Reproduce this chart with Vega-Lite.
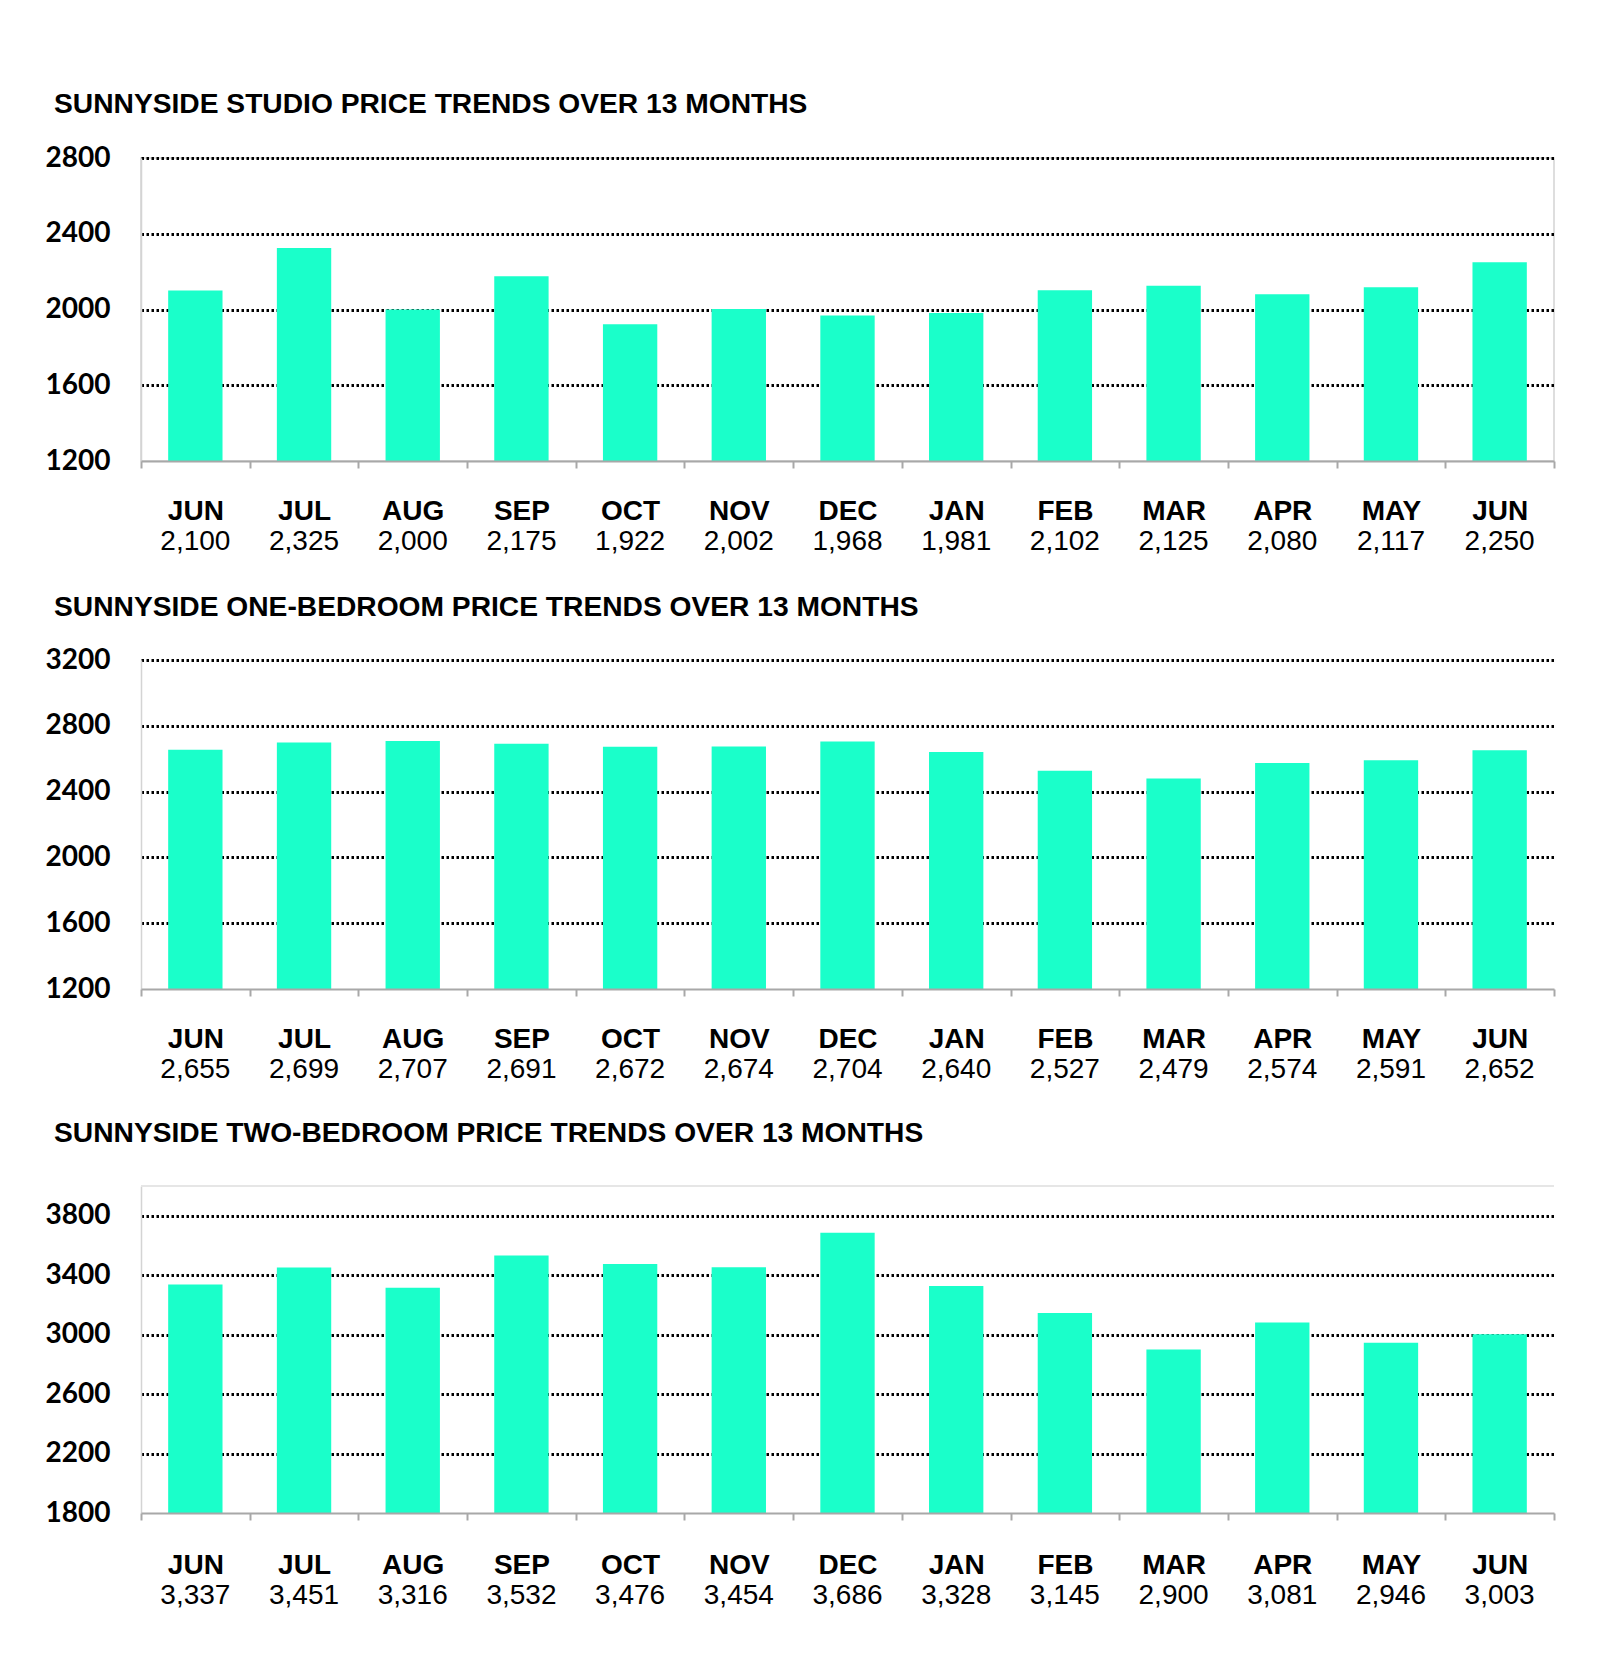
{
  "$schema": "https://vega.github.io/schema/vega-lite/v6.json",
  "background": "white",
  "padding": {"top": 89, "left": 44, "right": 10, "bottom": 10},
  "spacing": 36,
  "config": {"view": {"stroke": null}},
  "datasets": {
    "studio": [
      {"n": 1, "month": "JUN", "price": 2100},
      {"n": 2, "month": "JUL", "price": 2325},
      {"n": 3, "month": "AUG", "price": 2000},
      {"n": 4, "month": "SEP", "price": 2175},
      {"n": 5, "month": "OCT", "price": 1922},
      {"n": 6, "month": "NOV", "price": 2002},
      {"n": 7, "month": "DEC", "price": 1968},
      {"n": 8, "month": "JAN", "price": 1981},
      {"n": 9, "month": "FEB", "price": 2102},
      {"n": 10, "month": "MAR", "price": 2125},
      {"n": 11, "month": "APR", "price": 2080},
      {"n": 12, "month": "MAY", "price": 2117},
      {"n": 13, "month": "JUN", "price": 2250}
    ],
    "onebed": [
      {"n": 1, "month": "JUN", "price": 2655},
      {"n": 2, "month": "JUL", "price": 2699},
      {"n": 3, "month": "AUG", "price": 2707},
      {"n": 4, "month": "SEP", "price": 2691},
      {"n": 5, "month": "OCT", "price": 2672},
      {"n": 6, "month": "NOV", "price": 2674},
      {"n": 7, "month": "DEC", "price": 2704},
      {"n": 8, "month": "JAN", "price": 2640},
      {"n": 9, "month": "FEB", "price": 2527},
      {"n": 10, "month": "MAR", "price": 2479},
      {"n": 11, "month": "APR", "price": 2574},
      {"n": 12, "month": "MAY", "price": 2591},
      {"n": 13, "month": "JUN", "price": 2652}
    ],
    "twobed": [
      {"n": 1, "month": "JUN", "price": 3337},
      {"n": 2, "month": "JUL", "price": 3451},
      {"n": 3, "month": "AUG", "price": 3316},
      {"n": 4, "month": "SEP", "price": 3532},
      {"n": 5, "month": "OCT", "price": 3476},
      {"n": 6, "month": "NOV", "price": 3454},
      {"n": 7, "month": "DEC", "price": 3686},
      {"n": 8, "month": "JAN", "price": 3328},
      {"n": 9, "month": "FEB", "price": 3145},
      {"n": 10, "month": "MAR", "price": 2900},
      {"n": 11, "month": "APR", "price": 3081},
      {"n": 12, "month": "MAY", "price": 2946},
      {"n": 13, "month": "JUN", "price": 3003}
    ]
  },
  "vconcat": [
    {
      "data": {"name": "studio"},
      "transform": [{"calculate": "datum.month + '|' + format(datum.price, ',')", "as": "key"}],
      "width": 1413,
      "height": 303,
      "view": {"stroke": "#d4d4d4", "strokeWidth": 1.5},
      "title": {"text": "SUNNYSIDE STUDIO PRICE TRENDS OVER 13 MONTHS", "anchor": "start", "frame": "bounds", "dx": 9, "offset": 3, "baseline": "alphabetic", "font": "Liberation Sans", "fontSize": 28.2, "fontWeight": "bold", "color": "#000000"},
      "layer": [
        {
          "mark": {"type": "bar", "color": "#1AFFCA", "width": {"band": 0.5}},
          "encoding": {
            "x": {"field": "key", "type": "ordinal", "sort": null, "scale": {"paddingInner": 0, "paddingOuter": 0},
              "axis": {"orient": "bottom", "title": null, "labelExpr": "isString(datum.value) ? split(datum.value, '|')[0] : ''", "labelFont": "Liberation Sans", "labelFontSize": 28, "labelFontWeight": "bold", "labelColor": "#000000", "labelPadding": 29, "labelAngle": 0, "labelOverlap": false, "domainColor": "#a8a8a8", "domainWidth": 2, "tickColor": "#a8a8a8", "tickWidth": 2, "tickSize": 7, "tickBand": "extent", "grid": false, "zindex": 1}},
            "y": {"field": "price", "type": "quantitative", "scale": {"domain": [1200, 2800], "nice": false, "zero": false, "clamp": true},
              "axis": {"title": null, "values": [1200, 1600, 2000, 2400, 2800], "format": "d", "labelFont": "Lato", "labelFontSize": 28, "labelFontWeight": "bold", "labelColor": "#000000", "labelPadding": 31, "ticks": false, "tickSize": 0, "domainColor": "#d4d4d4", "domainWidth": 1.5, "grid": true, "gridColor": "#000000", "gridWidth": 2.8, "gridDash": [2.5, 2.5], "gridOpacity": {"condition": {"test": "datum.value === 1200", "value": 0}, "value": 1}}}
          }
        },
        {
          "mark": {"type": "bar", "opacity": 0},
          "encoding": {
            "x": {"field": "key", "type": "ordinal", "sort": null,
              "axis": {"orient": "bottom", "title": null, "labelExpr": "isString(datum.value) ? split(datum.value, '|')[1] : ''", "labelFont": "Liberation Sans", "labelFontSize": 28, "labelFontWeight": "normal", "labelColor": "#000000", "labelPadding": 66, "labelAngle": 0, "labelOverlap": false, "domain": false, "ticks": false, "tickSize": 0, "grid": false}}
          }
        }
      ],
      "resolve": {"axis": {"x": "independent"}}
    },
    {
      "data": {"name": "onebed"},
      "transform": [{"calculate": "datum.month + '|' + format(datum.price, ',')", "as": "key"}],
      "width": 1413,
      "height": 329,
      "title": {"text": "SUNNYSIDE ONE-BEDROOM PRICE TRENDS OVER 13 MONTHS", "anchor": "start", "frame": "bounds", "dx": 9, "offset": 2, "baseline": "alphabetic", "font": "Liberation Sans", "fontSize": 28.2, "fontWeight": "bold", "color": "#000000"},
      "layer": [
        {
          "mark": {"type": "bar", "color": "#1AFFCA", "width": {"band": 0.5}},
          "encoding": {
            "x": {"field": "key", "type": "ordinal", "sort": null, "scale": {"paddingInner": 0, "paddingOuter": 0},
              "axis": {"orient": "bottom", "title": null, "labelExpr": "isString(datum.value) ? split(datum.value, '|')[0] : ''", "labelFont": "Liberation Sans", "labelFontSize": 28, "labelFontWeight": "bold", "labelColor": "#000000", "labelPadding": 29, "labelAngle": 0, "labelOverlap": false, "domainColor": "#a8a8a8", "domainWidth": 2, "tickColor": "#a8a8a8", "tickWidth": 2, "tickSize": 7, "tickBand": "extent", "grid": false, "zindex": 1}},
            "y": {"field": "price", "type": "quantitative", "scale": {"domain": [1200, 3200], "nice": false, "zero": false, "clamp": true},
              "axis": {"title": null, "values": [1200, 1600, 2000, 2400, 2800, 3200], "format": "d", "labelFont": "Lato", "labelFontSize": 28, "labelFontWeight": "bold", "labelColor": "#000000", "labelPadding": 31, "ticks": false, "tickSize": 0, "domainColor": "#d4d4d4", "domainWidth": 1.5, "grid": true, "gridColor": "#000000", "gridWidth": 2.8, "gridDash": [2.5, 2.5], "gridOpacity": {"condition": {"test": "datum.value === 1200", "value": 0}, "value": 1}}}
          }
        },
        {
          "mark": {"type": "bar", "opacity": 0},
          "encoding": {
            "x": {"field": "key", "type": "ordinal", "sort": null,
              "axis": {"orient": "bottom", "title": null, "labelExpr": "isString(datum.value) ? split(datum.value, '|')[1] : ''", "labelFont": "Liberation Sans", "labelFontSize": 28, "labelFontWeight": "normal", "labelColor": "#000000", "labelPadding": 66, "labelAngle": 0, "labelOverlap": false, "domain": false, "ticks": false, "tickSize": 0, "grid": false}}
          }
        }
      ],
      "resolve": {"axis": {"x": "independent"}}
    },
    {
      "data": {"name": "twobed"},
      "transform": [{"calculate": "datum.month + '|' + format(datum.price, ',')", "as": "key"}],
      "width": 1413,
      "height": 327,
      "title": {"text": "SUNNYSIDE TWO-BEDROOM PRICE TRENDS OVER 13 MONTHS", "anchor": "start", "frame": "bounds", "dx": 9, "offset": 15, "baseline": "alphabetic", "font": "Liberation Sans", "fontSize": 28.2, "fontWeight": "bold", "color": "#000000"},
      "layer": [
        {
          "mark": {"type": "bar", "color": "#1AFFCA", "width": {"band": 0.5}},
          "encoding": {
            "x": {"field": "key", "type": "ordinal", "sort": null, "scale": {"paddingInner": 0, "paddingOuter": 0},
              "axis": {"orient": "bottom", "title": null, "labelExpr": "isString(datum.value) ? split(datum.value, '|')[0] : ''", "labelFont": "Liberation Sans", "labelFontSize": 28, "labelFontWeight": "bold", "labelColor": "#000000", "labelPadding": 31, "labelAngle": 0, "labelOverlap": false, "domainColor": "#a8a8a8", "domainWidth": 2, "tickColor": "#a8a8a8", "tickWidth": 2, "tickSize": 7, "tickBand": "extent", "grid": false, "zindex": 1}},
            "y": {"field": "price", "type": "quantitative", "scale": {"domain": [1800, 4000], "nice": false, "zero": false, "clamp": true},
              "axis": {"title": null, "values": [1800, 2200, 2600, 3000, 3400, 3800], "format": "d", "labelFont": "Lato", "labelFontSize": 28, "labelFontWeight": "bold", "labelColor": "#000000", "labelPadding": 31, "ticks": false, "tickSize": 0, "domainColor": "#d4d4d4", "domainWidth": 1.5, "grid": true, "gridColor": "#000000", "gridWidth": 2.8, "gridDash": [2.5, 2.5], "gridOpacity": {"condition": {"test": "datum.value === 1800", "value": 0}, "value": 1}}}
          }
        },
        {
          "mark": {"type": "bar", "opacity": 0},
          "encoding": {
            "x": {"field": "key", "type": "ordinal", "sort": null,
              "axis": {"orient": "bottom", "title": null, "labelExpr": "isString(datum.value) ? split(datum.value, '|')[1] : ''", "labelFont": "Liberation Sans", "labelFontSize": 28, "labelFontWeight": "normal", "labelColor": "#000000", "labelPadding": 68, "labelAngle": 0, "labelOverlap": false, "domain": false, "ticks": false, "tickSize": 0, "grid": false}}
          }
        },
        {
          "mark": {"type": "rule", "color": "#e6e6e6", "strokeWidth": 1.5},
          "encoding": {"y": {"datum": 4000, "type": "quantitative"}}
        }
      ],
      "resolve": {"axis": {"x": "independent"}}
    }
  ]
}
